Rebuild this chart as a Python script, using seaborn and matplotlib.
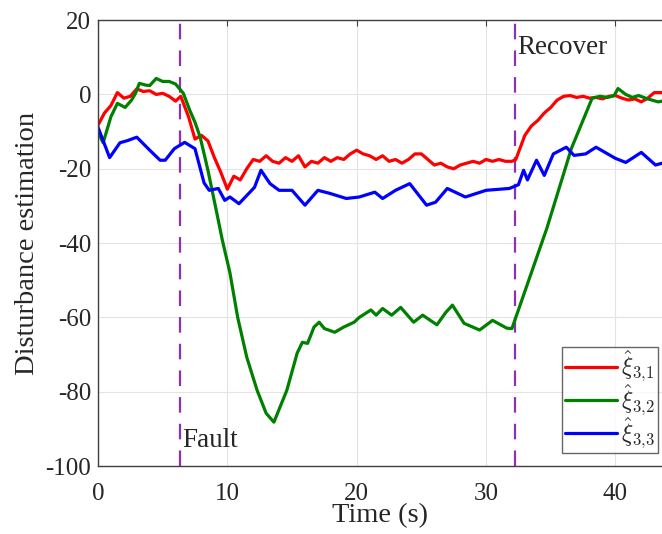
import pandas as pd
import seaborn as sns
import matplotlib.pyplot as plt

# data (time in s, estimate values)
t_red = [0, 0.5, 1.0, 1.5, 2.0, 2.5, 3.0, 3.5, 4.0, 4.5, 5.0, 5.5, 6.0, 6.4,
         7.0, 7.5, 8.0, 8.5, 9.0, 9.5, 10.0, 10.5, 11.0, 11.5, 12.0, 12.5, 13.0, 13.5,
         14.0, 14.5, 15.0, 15.5, 16.0, 16.5, 17.0, 17.5, 18.0, 18.5, 19.0, 19.5,
         20.0, 20.5, 21.0, 21.5, 22.0, 22.5, 23.0, 23.5, 24.0, 24.5, 25.0, 25.5,
         26.0, 26.5, 27.0, 27.5, 28.0, 28.5, 29.0, 29.5, 30.0, 30.5, 31.0, 31.5,
         32.0, 32.3, 33.0, 33.5, 34.0, 34.5, 35.0, 35.5, 36.0, 36.5, 37.0, 37.5,
         38.0, 38.5, 39.0, 39.5, 40.0, 40.5, 41.0, 41.5, 42.0, 42.5, 43.0, 43.6]
v_red = [-8.3, -5, -3, 0.5, -1, -0.5, 1.5, 0.8, 1, 0, 0.3, -0.5, -1.8, -0.5,
         -6, -12, -11, -12.5, -17, -21, -25.5, -22, -23, -20, -17.5, -18, -16.5, -18,
         -18.5, -17, -18, -16.5, -19.5, -18, -18.5, -17, -18, -17, -17.5, -16,
         -15, -16, -16.5, -17.5, -16.5, -18, -17.5, -18.5, -17.5, -16, -16, -17.5,
         -19, -18.5, -19.5, -20, -19, -18.5, -18, -18.5, -17.5, -18, -17.5, -18,
         -18, -17.5, -11, -8.5, -7, -5, -3.5, -1.5, -0.5, -0.3, -0.8, -0.5,
         -1, -0.8, -1.2, -0.5, -0.3, -1, -1.5, -1.2, -2, -1, 0.5, 0.5]

t_green = [0, 0.4, 1.0, 1.5, 2.1, 2.6, 2.9, 3.2, 3.7, 4.0, 4.5, 5.0, 5.5, 6.0, 6.6,
           7.1, 7.5, 7.9, 8.5, 9.25, 9.6, 10.2, 10.8, 11.5, 12.3, 13.0, 13.6,
           14.6, 15.4, 15.8, 16.2, 16.7, 17.1, 17.5, 18.3, 19.0, 19.8, 20.2, 21.1,
           21.5, 22.0, 22.7, 23.4, 24.4, 25.1, 26.2, 26.9, 27.4, 28.3, 29.5, 30.5,
           31.6, 32.0, 34.7, 36.6, 38.2, 38.8, 39.4, 39.9, 40.2, 40.8, 41.3, 41.8,
           42.5, 43.3, 43.6]
v_green = [-10.2, -13, -6, -2.4, -3.5, -1.5, 0.3, 3, 2.5, 2.4, 4.3, 3.5, 3.5, 2.8, 0.3,
           -4.3, -7.5, -11.5, -20.4, -33, -39, -48, -60, -70.7, -79.6, -85.8, -88.2,
           -79.6, -69.6, -66.7, -67, -62.6, -61.3, -63, -64, -62.6, -61.3, -60, -58,
           -59.4, -57.6, -59.4, -57.3, -61.3, -59.4, -62, -58.6, -56.7, -61.6, -63.4, -60.8,
           -62.9, -63, -36, -14.5, -1, -0.5, -0.8, -0.3, 1.6, 0, -0.8, -0.3,
           -1.2, -2, -1.8]

t_blue = [0, 0.9, 1.7, 2.3, 3.0, 4.0, 4.8, 5.2, 5.9, 6.7, 7.5, 8.2, 8.6, 9.3, 9.8,
          10.2, 10.9, 12.1, 12.6, 13.3, 14.0, 15.0, 16.0, 17.0, 17.9, 19.2, 20.2,
          21.4, 22.0, 23.0, 24.1, 25.4, 26.1, 27.0, 28.4, 30.0, 31.8, 32.5, 32.9,
          33.2, 33.9, 34.5, 35.2, 36.2, 36.8, 37.7, 38.5, 40.0, 40.8, 42.0, 43.1, 43.6]
v_blue = [-8.8, -17, -13, -12.4, -11.5, -15, -17.7, -17.7, -14.6, -12.9, -14.6, -23.8,
          -25.8, -25.3, -28.5, -27.6, -29.4, -25, -20.4, -24, -25.8, -25.8, -29.8,
          -25.8, -26.6, -28, -27.6, -26.3, -28, -25.8, -24, -29.8, -29, -25.3, -27.6,
          -25.8, -25.3, -24.3, -20.4, -23, -17.7, -21.8, -16, -14.2, -16.4, -16,
          -14.2, -17.2, -18.3, -15.6, -19, -18.5]

labels = [r'$\hat{\xi}_{3,\!1}$', r'$\hat{\xi}_{3,\!2}$', r'$\hat{\xi}_{3,\!3}$']
colors = ['#FF0000', '#008000', '#0000FF']
fault_t = 6.35
recover_t = 32.25

df = pd.concat([
    pd.DataFrame({'t': t_red, 'v': v_red, 'series': labels[0]}),
    pd.DataFrame({'t': t_green, 'v': v_green, 'series': labels[1]}),
    pd.DataFrame({'t': t_blue, 'v': v_blue, 'series': labels[2]}),
])

sns.set_style('white')
plt.rcParams['font.family'] = ['Liberation Serif', 'DejaVu Serif']
plt.rcParams['mathtext.fontset'] = 'cm'
plt.rcParams['axes.unicode_minus'] = False

fig = plt.figure(figsize=(6.62, 5.34), dpi=100)
ax = fig.add_axes([0.148, 0.1273, 0.852, 0.835])

sns.lineplot(data=df, x='t', y='v', hue='series', palette=dict(zip(labels, colors)),
             sort=False, estimator=None, lw=2.3, ax=ax)

for xv in [fault_t, recover_t]:
    ax.axvline(xv, color='#8C30B8', lw=1.6, dashes=(7, 5), zorder=1)

ax.text(fault_t + 0.2, -93, 'Fault', fontsize=19.5, va='center')
ax.text(recover_t + 0.2, 12.5, 'Recover', fontsize=19.5, va='center')

ax.set_xlim(0, 43.6)
ax.set_ylim(-100, 20)
ax.set_xticks([0, 10, 20, 30, 40])
ax.set_yticks(range(-100, 21, 20))
ax.grid(True, color='#E3E3E3', lw=0.8)
ax.set_axisbelow(True)
ax.tick_params(direction='in', top=True, labelsize=18, color='#404040', length=4, pad=5)
ax.tick_params(axis='x', pad=12)
for s in ['left', 'bottom', 'top']:
    ax.spines[s].set_color('#404040')
    ax.spines[s].set_linewidth(1.0)
ax.spines['right'].set_visible(False)

ax.set_xlabel('Time (s)', fontsize=20.5, labelpad=-1)
ax.set_ylabel('Disturbance estimation', fontsize=20.5, labelpad=4)

leg = ax.legend(loc='lower right', bbox_to_anchor=(658 / 662, 1 - 453 / 534),
                bbox_transform=fig.transFigure, fontsize=17, frameon=True,
                fancybox=False, handlelength=2.2, borderpad=0.1,
                labelspacing=-0.1, handletextpad=0.2, borderaxespad=0)
leg.get_frame().set_edgecolor('#404040')
leg.get_frame().set_linewidth(1.0)
for line in leg.get_lines():
    line.set_linewidth(2.3)

fig.savefig('out.png', dpi=100)
